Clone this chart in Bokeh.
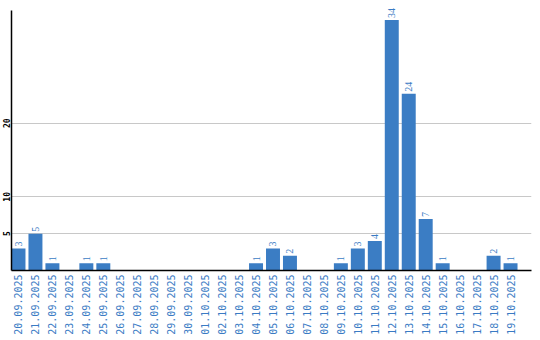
import math
from bokeh.plotting import figure
from bokeh.models import Range1d, FixedTicker, ColumnDataSource, LabelSet
from bokeh.embed import file_html
from bokeh.resources import INLINE

dates = ["20.09.2025", "21.09.2025", "22.09.2025", "23.09.2025", "24.09.2025",
         "25.09.2025", "26.09.2025", "27.09.2025", "28.09.2025", "29.09.2025",
         "30.09.2025", "01.10.2025", "02.10.2025", "03.10.2025", "04.10.2025",
         "05.10.2025", "06.10.2025", "07.10.2025", "08.10.2025", "09.10.2025",
         "10.10.2025", "11.10.2025", "12.10.2025", "13.10.2025", "14.10.2025",
         "15.10.2025", "16.10.2025", "17.10.2025", "18.10.2025", "19.10.2025"]
counts = [3, 5, 1, 0, 1, 1, 0, 0, 0, 0,
          0, 0, 0, 0, 1, 3, 2, 0, 0, 1,
          3, 4, 34, 24, 7, 1, 0, 0, 2, 1]
y_ticks = [5, 10, 20]

BAR = "#3b7dc4"
TXT = "#3a7bc4"
FONT = "DejaVu Sans Mono"

xs = list(range(len(dates)))
src = ColumnDataSource(dict(x=xs, top=counts))
lab_idx = [i for i, c in enumerate(counts) if c > 0]
lab_src = ColumnDataSource(dict(x=lab_idx, y=[counts[i] for i in lab_idx],
                                t=[str(counts[i]) for i in lab_idx]))

start = -7 / 17
p = figure(width=540, height=340, output_backend="svg", toolbar_location=None,
           x_range=Range1d(start, start + 521 / 17), y_range=Range1d(0, 36.1),
           min_border_left=10, min_border_right=9, min_border_top=4,
           min_border_bottom=70)
p.outline_line_color = None
p.background_fill_color = "white"
p.border_fill_color = "white"

p.vbar(x="x", top="top", bottom=0, width=14 / 17, source=src,
       fill_color=BAR, line_color=None)

p.add_layout(LabelSet(x="x", y="y", text="t", source=lab_src, angle=math.pi / 2,
                      text_align="left", text_baseline="middle", y_offset=2,
                      text_color=TXT, text_font=FONT, text_font_size="10px"))

p.xgrid.visible = False
p.ygrid.grid_line_color = "#c8c8c8"
p.ygrid.grid_line_width = 1

xa = p.xaxis[0]
xa.ticker = FixedTicker(ticks=xs)
xa.major_label_overrides = {i: d for i, d in enumerate(dates)}
xa.major_label_orientation = math.pi / 2
xa.major_label_text_font = FONT
xa.major_label_text_font_size = "10px"
xa.major_label_text_color = TXT
xa.major_label_standoff = 4
xa.major_tick_in = 0
xa.major_tick_out = 0
xa.minor_tick_in = 0
xa.minor_tick_out = 0
xa.axis_line_color = "black"
xa.axis_line_width = 1.5

ya = p.yaxis[0]
ya.ticker = FixedTicker(ticks=y_ticks)
ya.bounds = (0, 35.3)
ya.major_label_orientation = "vertical"
ya.major_label_text_font = FONT
ya.major_label_text_font_style = "bold"
ya.major_label_text_font_size = "8px"
ya.major_label_text_color = "black"
ya.major_label_standoff = 1
ya.major_tick_in = 0
ya.major_tick_out = 0
ya.minor_tick_in = 0
ya.minor_tick_out = 0
ya.axis_line_color = "black"
ya.axis_line_width = 1.5

open("out.html", "w").write(file_html(p, INLINE))
